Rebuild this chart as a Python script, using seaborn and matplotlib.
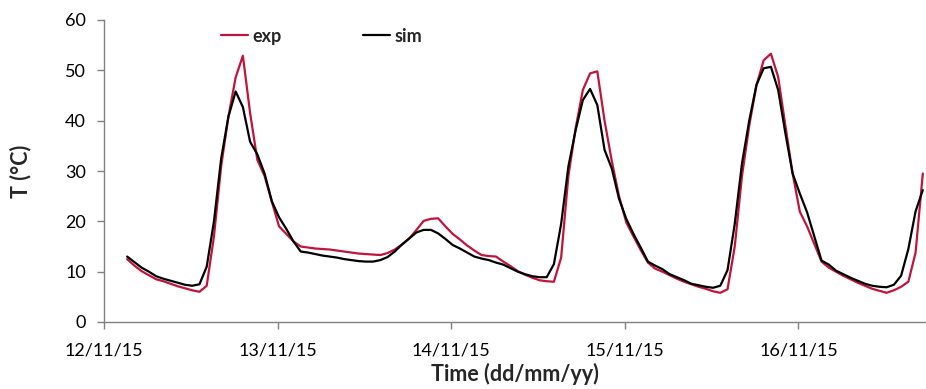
import numpy as np
import pandas as pd
import matplotlib
matplotlib.use("Agg")
import matplotlib.pyplot as plt
import matplotlib.dates as mdates
import seaborn as sns

# ---- data (hourly readings, first at 12/11/15 03:12) ----
start_time = "2015-11-12 03:12"
exp_T = [12.5, 11.2, 10.1, 9.3, 8.5, 8.1, 7.6, 7.1, 6.7, 6.3,
         6.0, 7.2, 17.0, 31.0, 40.8, 48.6, 52.9, 41.5, 32.2, 29.0,
         23.9, 19.0, 17.5, 16.0, 15.0, 14.8, 14.6, 14.5, 14.4, 14.2,
         14.0, 13.8, 13.6, 13.5, 13.4, 13.3, 13.7, 14.4, 15.4, 16.6,
         18.3, 20.1, 20.5, 20.6, 19.0, 17.5, 16.4, 15.2, 14.2, 13.3,
         13.1, 13.0, 12.0, 11.1, 10.1, 9.4, 8.8, 8.3, 8.1, 8.0,
         12.8, 29.0, 38.5, 46.1, 49.4, 49.8, 40.0, 32.0, 25.0, 19.8,
         17.0, 14.3, 11.8, 10.6, 10.0, 9.3, 8.6, 8.0, 7.5, 7.0,
         6.6, 6.1, 5.8, 6.5, 15.0, 29.0, 39.0, 47.0, 52.0, 53.3,
         48.7, 39.0, 29.5, 21.9, 19.0, 15.5, 12.0, 10.8, 10.0, 9.2,
         8.5, 7.8, 7.2, 6.6, 6.2, 5.8, 6.3, 7.0, 8.0, 13.8,
         29.5]
sim_T = [13.0, 11.9, 10.8, 10.0, 9.1, 8.6, 8.2, 7.8, 7.4, 7.2,
         7.5, 11.0, 20.0, 32.5, 40.8, 45.8, 42.7, 35.8, 33.3, 29.5,
         24.0, 20.8, 18.5, 16.0, 14.0, 13.8, 13.5, 13.2, 13.0, 12.8,
         12.5, 12.3, 12.1, 12.0, 12.0, 12.3, 12.9, 14.0, 15.4, 16.6,
         17.8, 18.3, 18.3, 17.6, 16.5, 15.3, 14.6, 13.8, 13.0, 12.6,
         12.3, 11.8, 11.4, 10.7, 10.0, 9.5, 9.1, 8.9, 8.9, 11.5,
         19.5, 30.9, 38.1, 44.1, 46.3, 43.1, 34.2, 30.5, 24.5, 20.5,
         17.5, 14.8, 12.0, 11.2, 10.5, 9.5, 8.9, 8.3, 7.6, 7.3,
         7.0, 6.8, 7.2, 10.3, 19.5, 31.5, 40.0, 47.1, 50.4, 50.7,
         46.1, 37.5, 29.5, 25.5, 21.8, 17.0, 12.2, 11.4, 10.2, 9.5,
         8.8, 8.2, 7.6, 7.2, 7.0, 6.9, 7.4, 9.2, 14.5, 22.0,
         26.2]
series_names = ["exp", "sim"]
series_colors = ["#C0143C", "#000000"]
y_ticks = [0, 10, 20, 30, 40, 50, 60]
x_tick_days = ["2015-11-12", "2015-11-13", "2015-11-14", "2015-11-15", "2015-11-16"]

times = pd.date_range(start_time, periods=len(exp_T), freq="h")
df = pd.concat([
    pd.DataFrame({"time": times, "T": exp_T, "series": "exp"}),
    pd.DataFrame({"time": times, "T": sim_T, "series": "sim"}),
])

sns.set_theme(style="ticks")
plt.rcParams["font.family"] = ["Lato", "DejaVu Sans"]

fig = plt.figure(figsize=(9.26, 3.89), dpi=100)
ax = fig.add_axes([104 / 926, 1 - 322 / 389, 1 - 104 / 926, (322 - 20) / 389])

sns.lineplot(data=df, x="time", y="T", hue="series", hue_order=series_names,
             palette=dict(zip(series_names, series_colors)), linewidth=1.6,
             ax=ax, legend=True)

ax.set_xlim(pd.Timestamp("2015-11-12"), pd.Timestamp("2015-11-12") + pd.Timedelta(days=4.735))
ax.set_ylim(0, 60)
ax.set_yticks(y_ticks)
ax.set_xticks([pd.Timestamp(d) for d in x_tick_days])
ax.xaxis.set_major_formatter(mdates.DateFormatter("%d/%m/%y"))

for s in ["top", "right"]:
    ax.spines[s].set_visible(False)
for s in ["left", "bottom"]:
    ax.spines[s].set_color("#808080")
    ax.spines[s].set_linewidth(1.0)
ax.tick_params(axis="both", direction="out", length=5, width=1.0, color="#808080",
               labelsize=13, labelcolor="#000000")
ax.tick_params(axis="y", pad=8)
ax.tick_params(axis="x", pad=10)

ax.set_xlabel("Time (dd/mm/yy)", fontsize=15.5, fontweight="bold", labelpad=3)
ax.set_ylabel("T (°C)", fontsize=15.5, fontweight="bold", labelpad=24)

leg = ax.legend(loc="center left", bbox_to_anchor=(0.142, 0.947), ncol=2, frameon=False,
                handlelength=1.5, handletextpad=0.25, columnspacing=4.5,
                borderpad=0, borderaxespad=0, prop={"weight": "bold", "size": 13})
for line in leg.get_lines():
    line.set_linewidth(1.6)

fig.savefig("out.png", dpi=100)
